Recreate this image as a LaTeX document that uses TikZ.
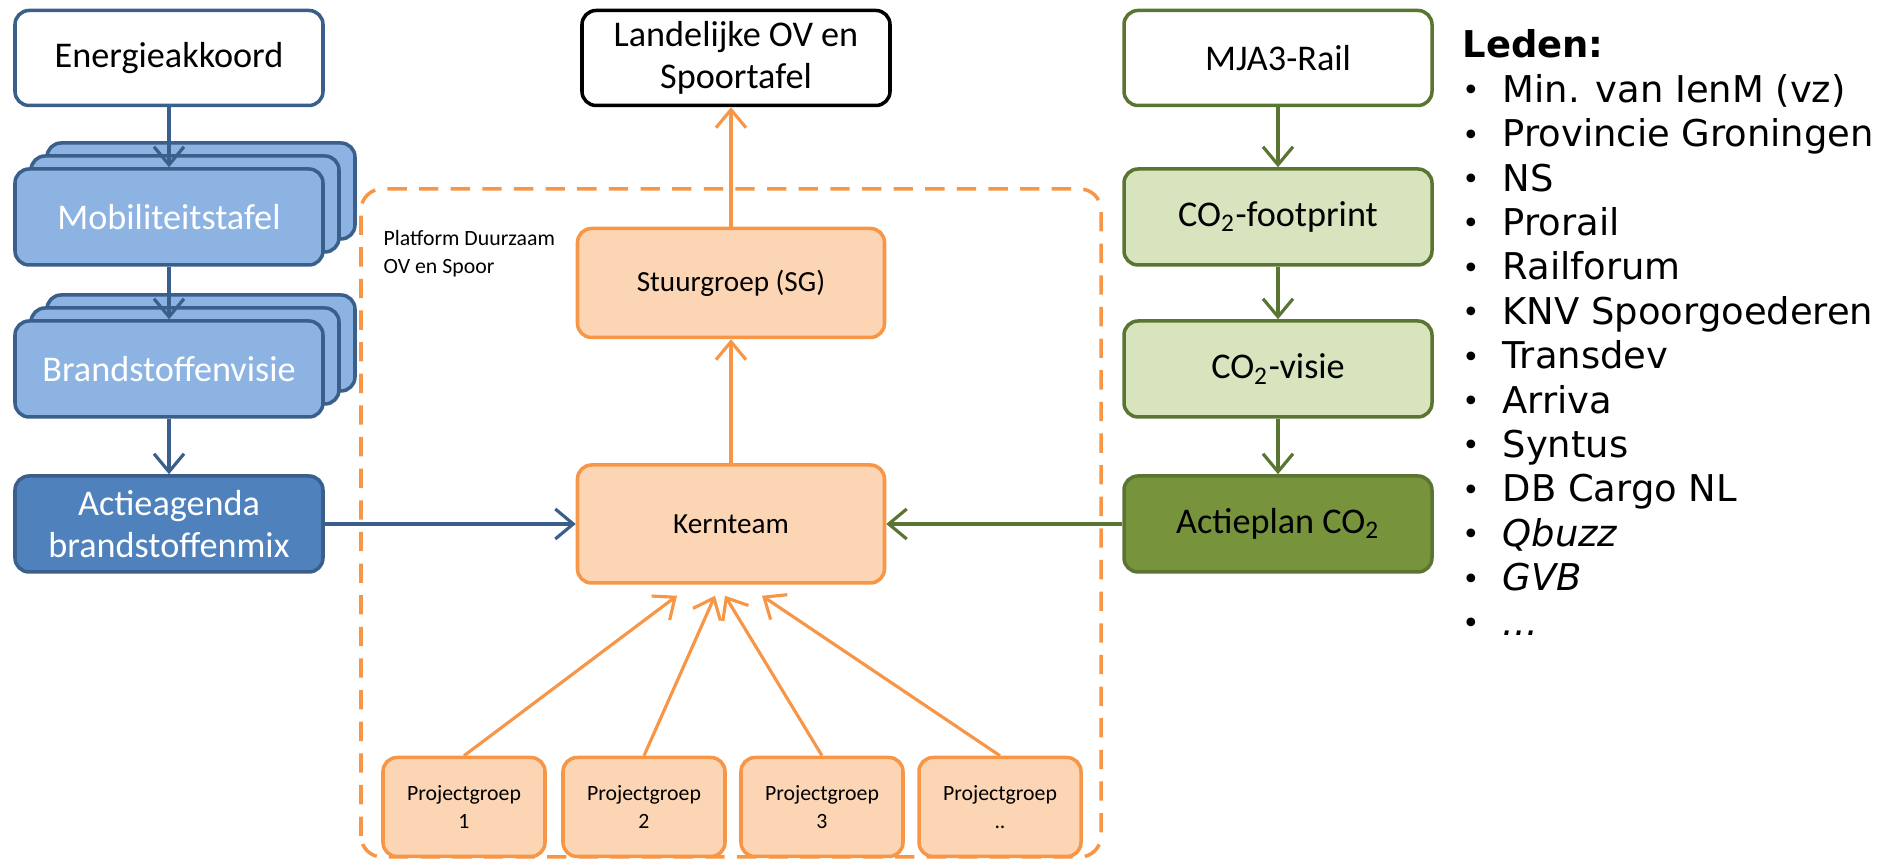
\documentclass[tikz,border=0pt]{standalone}
\usepackage{fontspec}
\setmainfont{Carlito}
\newfontfamily\listfont{DejaVu Sans}
\usepackage{tikz}
\usetikzlibrary{positioning,calc,arrows.meta}

\definecolor{blueline}{HTML}{3A5F8B}
\definecolor{bluelight}{HTML}{8DB3E2}
\definecolor{bluedark}{HTML}{4F81BD}
\definecolor{orangeline}{HTML}{F79646}
\definecolor{orangefill}{HTML}{FCD5B5}
\definecolor{greenline}{HTML}{5A7432}
\definecolor{greenlight}{HTML}{D7E4BD}
\definecolor{greendark}{HTML}{77933C}

\newcommand{\ledenbullet}{\makebox[0.40cm][l]{\fontsize{8.5}{10}\selectfont\raisebox{0.1ex}{•}}}

\tikzset{
    box/.style={draw, line width=1pt, rounded corners=4pt, minimum width=3.08cm, minimum height=0.96cm,
        align=center, inner sep=2pt, font=\fontsize{10.3}{12}\selectfont},
    bluebox/.style={box, draw=blueline, fill=bluelight, text=white},
    orangebox/.style={box, draw=orangeline, fill=orangefill, minimum width=3.07cm, font=\fontsize{8.3}{10}\selectfont},
    pgbox/.style={orangebox, minimum width=1.62cm, minimum height=0.99cm, font=\fontsize{6.2}{8}\selectfont},
    greenbox/.style={box, draw=greenline, fill=greenlight},
    tip/.style={-{Straight Barb[length=1.8mm,width=3mm]}, line width=0.9pt},
    bluearrow/.style={tip, draw=blueline},
    orangearrow/.style={tip, draw=orangeline},
    greenarrow/.style={tip, draw=greenline},
    platform/.style={draw=orangeline, line width=1pt, dash pattern=on 5.5pt off 3.5pt, rounded corners=6pt}
}

\begin{document}
\begin{tikzpicture}
    \useasboundingbox (0,0) rectangle (18.87,8.61);

    \draw[platform] (3.61,0.04) rectangle (11.01,6.72);
    \node[anchor=north west, inner sep=0, align=left, font=\fontsize{6.2}{8}\selectfont] (plat) at (3.83,6.31) {Platform Duurzaam\\OV en Spoor};

    \node[box, draw=blueline, minimum height=0.95cm] (ener) at (1.69,8.03) {Energieakkoord};
    \foreach \k in {2,1} {
        \node[bluebox] (mob\k) at ($(1.69,6.44)+(\k*0.16,\k*0.13)$) {};
        \node[bluebox] (brand\k) at ($(1.69,4.92)+(\k*0.16,\k*0.13)$) {};
    }
    \node[bluebox] (mob) at (1.69,6.44) {Mobiliteitstafel};
    \node[bluebox] (brand) at (1.69,4.92) {Brandstoffenvisie};
    \node[bluebox, fill=bluedark] (actie) at (1.69,3.37) {Actieagenda\\brandstoffenmix};

    \node[box, draw=black, minimum height=0.95cm] (land) at (7.36,8.03) {Landelijke OV en\\Spoortafel};
    \node[orangebox, minimum height=1.09cm] (sg) at (7.31,5.78) {Stuurgroep (SG)};
    \node[orangebox, minimum height=1.18cm] (kern) at (7.31,3.37) {Kernteam};
    \node[pgbox] (pg1) at (4.64,0.54) {Projectgroep\\1};
    \node[pgbox] (pg2) at (6.44,0.54) {Projectgroep\\2};
    \node[pgbox] (pg3) at (8.22,0.54) {Projectgroep\\3};
    \node[pgbox] (pg4) at (10.00,0.54) {Projectgroep\\..};

    \node[box, draw=greenline, minimum height=0.95cm] (mja) at (12.78,8.03) {MJA3-Rail};
    \node[greenbox] (foot) at (12.78,6.44) {CO\textsubscript{2}-footprint};
    \node[greenbox] (visie) at (12.78,4.92) {CO\textsubscript{2}-visie};
    \node[greenbox, fill=greendark] (plan) at (12.78,3.37) {Actieplan CO\textsubscript{2}};

    \draw[bluearrow] (ener) -- (mob);
    \draw[bluearrow] (mob) -- (brand);
    \draw[bluearrow] (brand) -- (actie);
    \draw[bluearrow] (actie) -- (kern);

    \draw[orangearrow] (kern) -- (sg);
    \draw[orangearrow] (sg) -- (sg |- land.south);
    \foreach \k/\dx in {1/-0.54, 2/-0.16, 3/-0.06, 4/0.31}
        \draw[orangearrow] (pg\k.north) -- ($(kern.south)+(\dx,-0.11)$);

    \draw[greenarrow] (mja) -- (foot);
    \draw[greenarrow] (foot) -- (visie);
    \draw[greenarrow] (visie) -- (plan);
    \draw[greenarrow] (plan) -- (kern);

    \node[anchor=base west, inner sep=0, font=\listfont\fontsize{10.5}{12.6}\selectfont\bfseries] (leden) at (14.62,8.03) {Leden:};
    \foreach \lid [count=\i] in {Min. van IenM (vz), Provincie Groningen, NS, Prorail, Railforum,
        KNV Spoorgoederen, Transdev, Arriva, Syntus, DB Cargo NL, \textit{Qbuzz}, \textit{GVB}, \textit{...}}
        \node[anchor=base west, inner sep=0, font=\listfont\fontsize{10.5}{12.6}\selectfont] (lid\i) at (14.62,8.03-0.444*\i) {\ledenbullet\lid};
\end{tikzpicture}
\end{document}
